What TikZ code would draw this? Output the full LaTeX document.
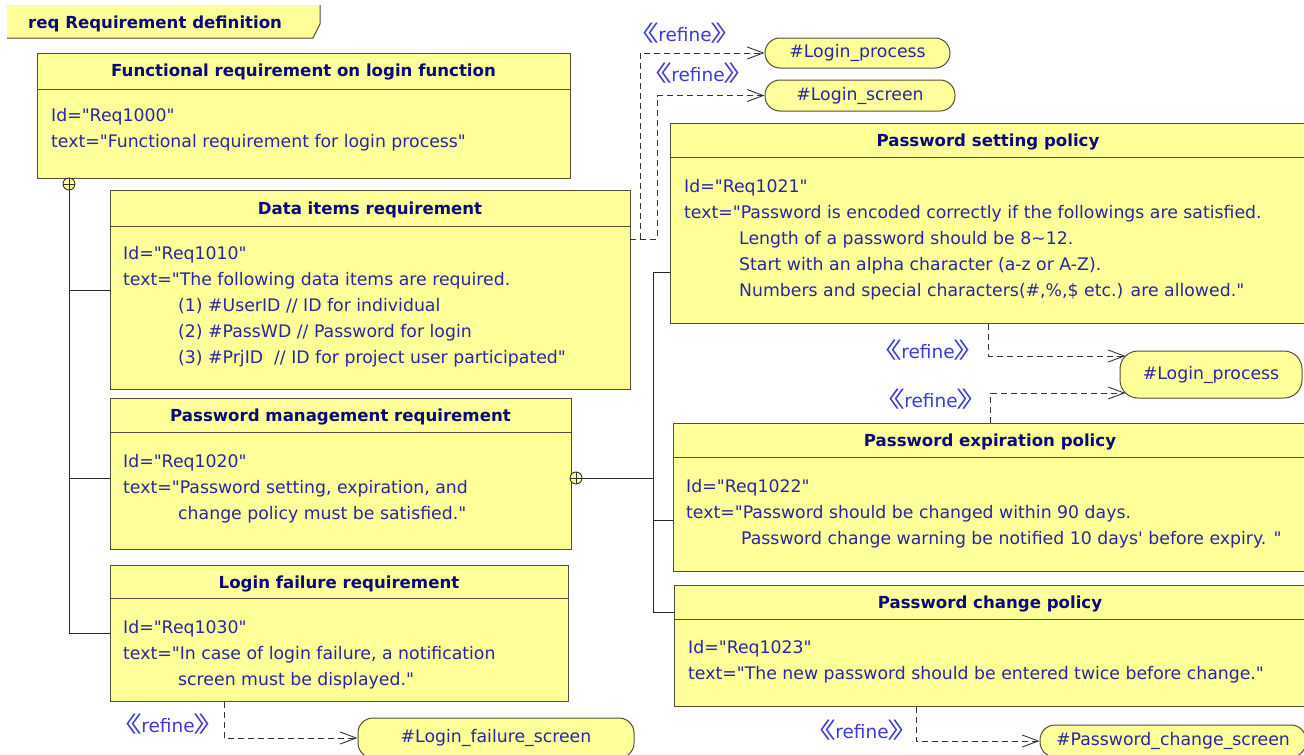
\documentclass[tikz,border=0pt]{standalone}
\usepackage{fontspec}
\setmainfont{DejaVu Sans}[Ligatures=TeXOff]
\newfontfamily\cjkfont{Noto Sans CJK SC}
\usetikzlibrary{arrows.meta}
\definecolor{reqfill}{RGB}{255,255,153}
\definecolor{reqline}{RGB}{80,80,60}
\definecolor{titleblue}{RGB}{10,10,120}
\definecolor{bodyblue}{RGB}{40,40,160}
\definecolor{refblue}{RGB}{60,60,210}
\newcommand{\ind}{\hspace*{55pt}}
\newcommand{\refinelbl}{{\cjkfont\fontsize{22}{22}\selectfont\scalebox{1.5}[1]{《}}\kern-1pt refine\kern-1pt{\cjkfont\fontsize{22}{22}\selectfont\scalebox{1.5}[1]{》}}}
\begin{document}
\begin{tikzpicture}[x=1pt,y=-1pt,
  reqbox/.style={draw=reqline, fill=reqfill, line width=1pt, rectangle, anchor=north west, inner sep=0pt},
  hdr/.style={font=\fontsize{16.6}{20}\selectfont\bfseries, text=titleblue, anchor=base, inner sep=0pt},
  body/.style={font=\fontsize{17.3}{26}\selectfont, text=bodyblue, align=left, anchor=north west, inner sep=0pt},
  divider/.style={draw=reqline, line width=1pt},
  blk/.style={draw=reqline, fill=reqfill, rounded corners=15pt, line width=1pt, rectangle, inner sep=0pt, text=bodyblue, font=\fontsize{17.3}{20}\selectfont},
  refl/.style={text=refblue, font=\fontsize{18.5}{20}\selectfont, inner sep=0pt},
  dashconn/.style={draw=black!80, line width=0.9pt, dash pattern=on 6pt off 4pt, -{Straight Barb[length=16pt,width=12pt,line width=0.9pt]}},
  conn/.style={draw=black!85, line width=1pt},
  plusc/.style={circle, draw=black!80, fill=reqfill, minimum size=12pt, inner sep=0pt, line width=0.9pt}
]
\useasboundingbox (0,0) rectangle (1304,755);
\fill[white] (0,0) rectangle (1304,755);

% title tab
\fill[reqfill] (7,5) -- (320,5) -- (320,24) -- (313,38) -- (7,38) -- cycle;
\draw[reqline, line width=1pt] (320,5) -- (320,24) -- (313,38) -- (7,38);
\node[font=\fontsize{16.6}{20}\selectfont\bfseries, text=titleblue, anchor=base west, inner sep=0pt] (tabtitle) at (28,28) {req Requirement definition};

% boxes
\node[reqbox, minimum width=533pt, minimum height=125pt] (fr) at (37,53) {};
\draw[divider] (37,89) -- (570,89);
\node[hdr] (frt) at (303.5,76) {Functional requirement on login function};
\node[body] (frb) at (51,108) {Id="Req1000"\\text="Functional requirement for login process"};

\node[reqbox, minimum width=520pt, minimum height=199pt] (di) at (110,190) {};
\draw[divider] (110,226) -- (630,226);
\node[hdr] (dit) at (370,214) {Data items requirement};
\node[body] (dib) at (123,246) {Id="Req1010"\\text="The following data items are required.\\
\ind(1) \#UserID // ID for individual\\
\ind(2) \#PassWD // Password for login\\
\ind(3) \#PrjID\ \ // ID for project user participated"};

\node[reqbox, minimum width=461pt, minimum height=151pt] (pm) at (110,398) {};
\draw[divider] (110,432) -- (571,432);
\node[hdr] (pmt) at (340.5,421) {Password management requirement};
\node[body] (pmb) at (123,454) {Id="Req1020"\\text="Password setting, expiration, and\\
\ind change policy must be satisfied."};

\node[reqbox, minimum width=458pt, minimum height=136pt] (lf) at (110,565) {};
\draw[divider] (110,598) -- (568,598);
\node[hdr] (lft) at (339,588) {Login failure requirement};
\node[body] (lfb) at (123,620) {Id="Req1030"\\text="In case of login failure, a notification\\
\ind screen must be displayed."};

\node[reqbox, minimum width=636pt, minimum height=200pt] (ps) at (670,123) {};
\draw[divider] (670,157) -- (1306,157);
\node[hdr] (pst) at (988,146) {Password setting policy};
\node[body] (psb) at (684,179) {Id="Req1021"\\text="Password is encoded correctly if the followings are satisfied.\\
\ind Length of a password should be 8\textasciitilde12.\\
\ind Start with an alpha character (a-z or A-Z).\\
\ind Numbers and special characters(\#,\%,\$ etc.) are allowed."};

\node[reqbox, minimum width=634pt, minimum height=148pt] (pe) at (673,423) {};
\draw[divider] (673,457) -- (1307,457);
\node[hdr] (pet) at (990,446) {Password expiration policy};
\node[body] (peb) at (686,479) {Id="Req1022"\\text="Password should be changed within 90 days.\\
\ind Password change warning be notified 10 days' before expiry. "};

\node[reqbox, minimum width=632pt, minimum height=121pt] (pc) at (674,585) {};
\draw[divider] (674,619) -- (1306,619);
\node[hdr] (pct) at (990,608) {Password change policy};
\node[body] (pcb) at (688,640) {Id="Req1023"\\text="The new password should be entered twice before change."};

% refined elements
\node[blk, minimum width=185pt, minimum height=30pt] (lp1) at (857.5,53) {\#Login\_process};
\node[blk, minimum width=190pt, minimum height=31pt] (ls) at (860,95.5) {\#Login\_screen};
\node[blk, rounded corners=18pt, minimum width=182pt, minimum height=47pt] (lp2) at (1211,374.5) {\#Login\_process};
\node[blk, minimum width=276pt, minimum height=40pt] (lfs) at (496,738) {\#Login\_failure\_screen};
\node[blk, minimum width=266pt, minimum height=32pt] (pcs) at (1173,741) {\#Password\_change\_screen};

% refine labels
\node[refl] (r1) at (685,33) {\refinelbl};
\node[refl] (r2) at (698,73) {\refinelbl};
\node[refl] (r3) at (928,350) {\refinelbl};
\node[refl] (r4) at (931,399) {\refinelbl};
\node[refl] (r5) at (168,724) {\refinelbl};
\node[refl] (r6) at (862,730) {\refinelbl};

% refine connectors
\coordinate (dis) at (630,239);
\draw[dashconn] (dis) -- ++(10,0) |- (lp1.west);
\draw[dashconn] (dis) -- ++(27,0) |- (ls.west);
\draw[dashconn] (ps.south) |- ([xshift=6pt,yshift=18.5pt]lp2.west);
\draw[dashconn] (pe.north) |- ([xshift=6pt,yshift=-18.5pt]lp2.west);
\draw[dashconn] ([xshift=114pt]lf.south west) |- (lfs.west);
\draw[dashconn] ([xshift=242pt]pc.south west) |- (pcs.west);

% containment
\node[plusc] (c1) at (69,184) {};
\draw[black!80, line width=0.9pt] (c1.north) -- (c1.south) (c1.west) -- (c1.east);
\coordinate (j1) at (69,290);
\coordinate (j2) at (69,478);
\coordinate (j3) at (69,633);
\draw[conn] (c1.south) -- (j3) -- (j3 -| lf.west);
\draw[conn] (j1) -- (j1 -| di.west);
\draw[conn] (j2) -- (j2 -| pm.west);

\node[plusc] (c2) at (576,478) {};
\draw[black!80, line width=0.9pt] (c2.north) -- (c2.south) (c2.west) -- (c2.east);
\coordinate (k0) at (653,478);
\coordinate (k1) at (653,272);
\coordinate (k2) at (653,520);
\coordinate (k3) at (653,612);
\draw[conn] (c2.east) -- (k0);
\draw[conn] (k1) -- (k3);
\draw[conn] (k1) -- (k1 -| ps.west);
\draw[conn] (k2) -- (k2 -| pe.west);
\draw[conn] (k3) -- (k3 -| pc.west);
\end{tikzpicture}
\end{document}
